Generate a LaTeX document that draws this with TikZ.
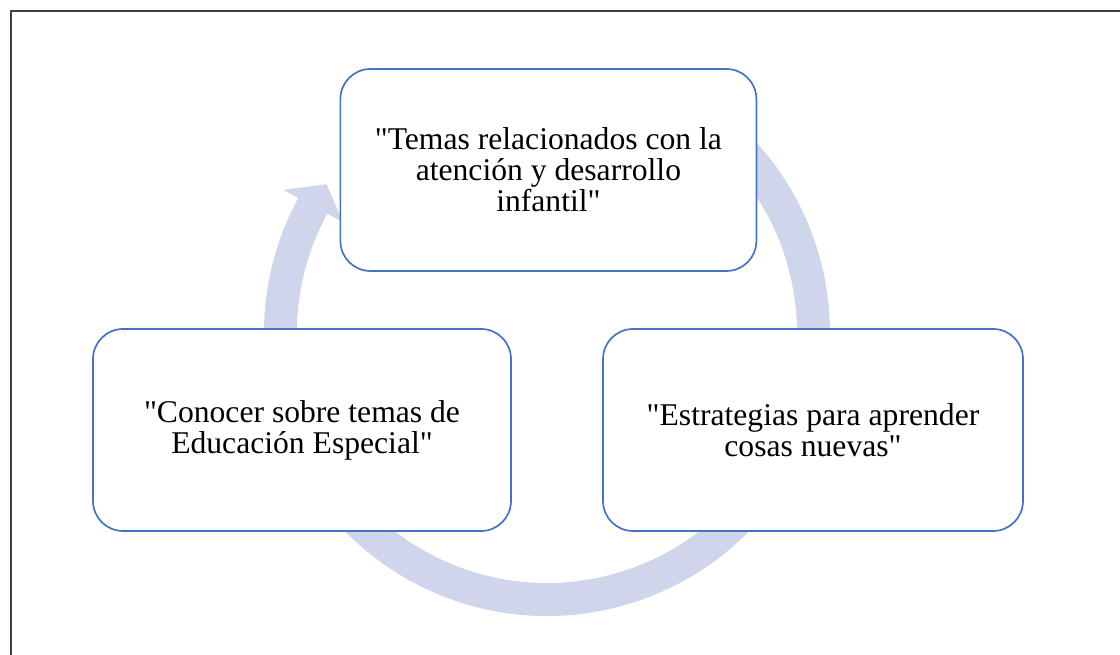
\documentclass[tikz,border=0pt]{standalone}
\usepackage{amsmath}
\usepackage{tikz}
\usepackage{xcolor}
\usepackage{fontspec}
\setmainfont{Liberation Serif}[Ligatures=TeXOff]
\definecolor{aro}{RGB}{207,213,234}
\definecolor{borde}{RGB}{68,114,196}
\definecolor{marco}{RGB}{64,64,64}

\begin{document}
\begin{tikzpicture}[caja/.style={draw=borde,line width=1.2pt,fill=white,rounded corners=0.75cm,minimum width=#1,minimum height=5.05cm,align=center,font=\fontsize{22.5}{22}\selectfont}]
        \useasboundingbox (0,0) rectangle (28,16.375);
        \draw[marco,line width=1.4pt] (0.28,0) -- (0.28,16.1) -- (28,16.1);
        % circular arrow behind the boxes
        \fill[aro,shift={(13.675,8.05)}] (60:7.075) arc[start angle=60,end angle=-208.5,radius=7.075] -- (-208.5:7.5) -- (-214:6.65) -- (-208.5:5.8) -- (-208.5:6.25) arc[start angle=-208.5,end angle=60,radius=6.25] -- cycle;
        \node[caja=10.4cm] (temas) at (13.71,12.125) {"Temas relacionados con la\\atención y desarrollo\\infantil"};
        \node[caja=10.45cm] (conocer) at (7.55,5.625) {"Conocer sobre temas de\\Educación Especial"};
        \node[caja=10.5cm] (estrategias) at (20.325,5.625) {"Estrategias para aprender\\cosas nuevas"};
    \end{tikzpicture}
\end{document}
